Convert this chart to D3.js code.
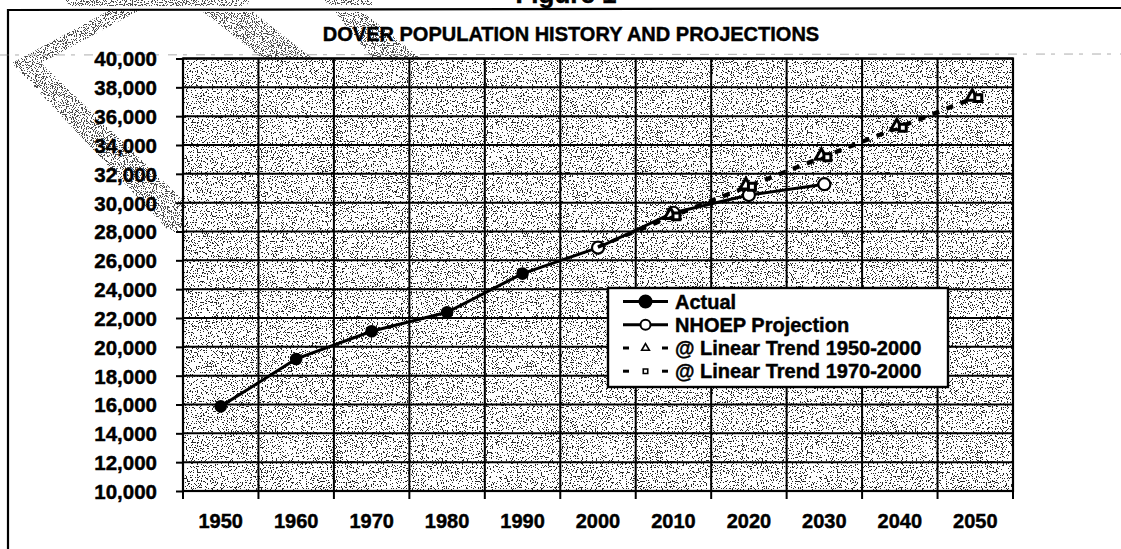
<!DOCTYPE html>
<html>
<head>
<meta charset="utf-8">
<script src="https://cdn.jsdelivr.net/npm/d3@7/dist/d3.min.js"></script>
<style>
  html, body { margin: 0; padding: 0; background: #fff; }
  svg { display: block; }
  text { font-family: "Liberation Sans", Arial, Helvetica, sans-serif; font-weight: bold; fill: #000;
         stroke: #000; stroke-width: 0.45px; }
</style>
</head>
<body>
<svg id="chart" width="1121" height="549"></svg>
<script>
// Decennial categories on the horizontal axis
const years = [1950, 1960, 1970, 1980, 1990, 2000, 2010, 2020, 2030, 2040, 2050];
const yTickValues = [10000, 12000, 14000, 16000, 18000, 20000, 22000, 24000,
                     26000, 28000, 30000, 32000, 34000, 36000, 38000, 40000];

// Census counts
const actualYears = [1950, 1960, 1970, 1980, 1990, 2000];
const actualPop   = [15870, 19160, 21080, 22400, 25080, 26880];

// NH Office of Energy and Planning projection
const nhoepYears = [2000, 2010, 2020, 2030];
const nhoepPop   = [26880, 29300, 30530, 31280];

// Straight-line extrapolations
const trendYears   = [2000, 2010, 2020, 2030, 2040, 2050];
const trend1950Pop = [26950, 29150, 31200, 33250, 35300, 37350];
const trend1970Pop = [26900, 29050, 31100, 33150, 35200, 37250];

const titleText = "DOVER POPULATION HISTORY AND PROJECTIONS";
const legendLabels = ["Actual", "NHOEP Projection", "@ Linear Trend 1950-2000", "@ Linear Trend 1970-2000"];

const svg = d3.select("#chart");
const W = 1121, H = 549;
const plot = { left: 183, right: 1013, top: 58.5, bottom: 491 };

const x = d3.scaleBand().domain(years).range([plot.left, plot.right]).padding(0);
const y = d3.scaleLinear().domain([10000, 40000]).range([plot.bottom, plot.top]);
const cx = yr => x(yr) + x.bandwidth() / 2;

// ---- filters: halftone speckle for the plot fill and the faint stipple shapes
const defs = svg.append("defs");
function speckle(id, freq, seed, threshold, alpha) {
  const f = defs.append("filter").attr("id", id)
    .attr("x", 0).attr("y", 0).attr("width", 1).attr("height", 1)
    .attr("filterUnits", "objectBoundingBox");
  f.append("feTurbulence").attr("type", "fractalNoise")
    .attr("baseFrequency", freq).attr("numOctaves", 1).attr("seed", seed);
  f.append("feColorMatrix").attr("type", "matrix")
    .attr("values", "0 0 0 0 0  0 0 0 0 0  0 0 0 0 0  1 0 0 0 0");
  const steps = 40;
  const table = d3.range(steps).map(i => (i / steps >= threshold ? alpha : 0)).join(" ");
  f.append("feComponentTransfer").append("feFuncA").attr("type", "discrete").attr("tableValues", table);
}
speckle("grain", 0.8, 7, 0.6, 0.85);
speckle("grainLight", 0.9, 3, 0.55, 0.7);

// ---- faint stippled shapes behind the heading
const stippleShapes = [
  [[110, 10], [140, 10], [41, 63], [183, 200], [183, 232], [170, 232], [12, 63]],
  [[203, 12], [253, 12], [312, 58], [262, 58]],
  [[335, 12], [363, 12], [420, 58], [372, 58]],
  [[65, 0], [250, 0], [246, 6], [70, 6]],
  [[323, 0], [372, 0], [372, 5], [330, 5]]
];
stippleShapes.forEach((pts, i) => {
  defs.append("clipPath").attr("id", "clipS" + i)
    .append("polygon").attr("points", pts.map(p => p.join(",")).join(" "));
  svg.append("rect").attr("x", 0).attr("y", 0).attr("width", 430).attr("height", 240)
    .attr("clip-path", `url(#clipS${i})`).attr("filter", "url(#grainLight)");
});

// ---- page frame and faint scan line
svg.append("line").attr("x1", 8).attr("y1", 10).attr("x2", W).attr("y2", 8)
  .attr("stroke", "#000").attr("stroke-width", 2.2);
svg.append("line").attr("x1", 8).attr("y1", 9).attr("x2", 8).attr("y2", H)
  .attr("stroke", "#000").attr("stroke-width", 2.2);
svg.append("line").attr("x1", 0).attr("y1", 55).attr("x2", W).attr("y2", 54)
  .attr("stroke", "#777").attr("stroke-width", 1).attr("stroke-dasharray", "9,6,4,9")
  .attr("opacity", 0.6);

// Figure caption, cut by the top edge
svg.append("text").attr("x", 566).attr("y", 3).attr("text-anchor", "middle")
  .style("font-size", "26px").text("Figure 1");

// Title
svg.append("text").attr("x", 571).attr("y", 41).attr("text-anchor", "middle")
  .style("font-size", "20px").text(titleText);

// ---- plot area
svg.append("rect").attr("x", plot.left).attr("y", plot.top)
  .attr("width", plot.right - plot.left).attr("height", plot.bottom - plot.top)
  .attr("fill", "#fff");
svg.append("rect").attr("x", plot.left).attr("y", plot.top)
  .attr("width", plot.right - plot.left).attr("height", plot.bottom - plot.top)
  .attr("filter", "url(#grain)");

const grid = svg.append("g").attr("stroke", "#000").attr("stroke-width", 2);
grid.selectAll("line.h").data(yTickValues).join("line").attr("class", "h")
  .attr("x1", plot.left).attr("x2", plot.right)
  .attr("y1", d => y(d)).attr("y2", d => y(d));
grid.selectAll("line.v").data(years.slice(1)).join("line").attr("class", "v")
  .attr("x1", d => x(d)).attr("x2", d => x(d))
  .attr("y1", plot.top).attr("y2", plot.bottom);
svg.append("rect").attr("x", plot.left).attr("y", plot.top)
  .attr("width", plot.right - plot.left).attr("height", plot.bottom - plot.top)
  .attr("fill", "none").attr("stroke", "#000").attr("stroke-width", 2.2);

// ---- axes
const yAxis = svg.append("g").attr("transform", `translate(${plot.left},0)`)
  .call(d3.axisLeft(y).tickValues(yTickValues).tickFormat(d3.format(","))
    .tickSize(7).tickPadding(19));
yAxis.select(".domain").remove();
yAxis.selectAll("line").attr("stroke", "#000").attr("stroke-width", 2);
yAxis.selectAll("text").style("font-size", "20.5px").attr("fill", "#000")
  .attr("font-family", null).attr("dy", "0.36em");

const xAxis = svg.append("g").attr("transform", `translate(0,${plot.bottom})`)
  .call(d3.axisBottom(x).tickSize(0).tickPadding(0));
xAxis.select(".domain").remove();
xAxis.selectAll("text").style("font-size", "20px").attr("fill", "#000")
  .attr("font-family", null).attr("dy", null).attr("y", 37);
// category boundary ticks
svg.append("g").attr("stroke", "#000").attr("stroke-width", 2)
  .selectAll("line").data(years.concat([null])).join("line")
  .attr("x1", (d, i) => plot.left + i * x.step()).attr("x2", (d, i) => plot.left + i * x.step())
  .attr("y1", plot.bottom).attr("y2", plot.bottom + 8);

// ---- series
const line = d3.line().x(d => cx(d[0])).y(d => y(d[1]));
const zip = (a, b) => a.map((v, i) => [v, b[i]]);

const actual = zip(actualYears, actualPop);
const nhoep = zip(nhoepYears, nhoepPop);
const t1950 = zip(trendYears, trend1950Pop);
const t1970 = zip(trendYears, trend1970Pop);

const triangle = d3.symbol().type(d3.symbolTriangle).size(64);
const square = d3.symbol().type(d3.symbolSquare).size(48);

// Actual
svg.append("path").datum(actual).attr("d", line)
  .attr("fill", "none").attr("stroke", "#000").attr("stroke-width", 3);
svg.append("g").selectAll("circle").data(actual).join("circle")
  .attr("cx", d => cx(d[0])).attr("cy", d => y(d[1])).attr("r", 6.3).attr("fill", "#000");

// NHOEP projection
svg.append("path").datum(nhoep).attr("d", line)
  .attr("fill", "none").attr("stroke", "#000").attr("stroke-width", 3);
svg.append("g").selectAll("circle").data(nhoep).join("circle")
  .attr("cx", d => cx(d[0])).attr("cy", d => y(d[1])).attr("r", 6)
  .attr("fill", "#fff").attr("stroke", "#000").attr("stroke-width", 2.2);

// Linear trends: dashed, markers on projected decades
function trendSeries(data, sym, dx) {
  svg.append("path").datum(data).attr("d", line)
    .attr("fill", "none").attr("stroke", "#000").attr("stroke-width", 3)
    .attr("stroke-dasharray", "7,8");
  svg.append("g").selectAll("path").data(data.filter(d => d[0] > 2000)).join("path")
    .attr("transform", d => `translate(${cx(d[0]) + dx},${y(d[1])})`)
    .attr("d", sym).attr("fill", "#fff").attr("stroke", "#000").attr("stroke-width", 3);
}
trendSeries(t1950, triangle, -3);
trendSeries(t1970, square, 3);

// ---- legend
const lg = svg.append("g");
lg.append("rect").attr("x", 608).attr("y", 288).attr("width", 340).attr("height", 99)
  .attr("fill", "#fff").attr("stroke", "#000").attr("stroke-width", 2.4);
const rowY = [308.5, 331.8, 355, 378.2];
const symX0 = 623, symX1 = 668, symXc = 645.5;
legendLabels.forEach((label, i) => {
  const by = rowY[i], sy = by - 7;
  if (i < 2) {
    lg.append("line").attr("x1", symX0).attr("x2", symX1).attr("y1", sy).attr("y2", sy)
      .attr("stroke", "#000").attr("stroke-width", 3);
    lg.append("circle").attr("cx", symXc).attr("cy", sy).attr("r", i === 0 ? 6 : 5)
      .attr("fill", i === 0 ? "#000" : "#fff").attr("stroke", "#000").attr("stroke-width", 2);
  } else {
    [[symX0, symX0 + 6], [symX1 - 6, symX1]].forEach(([a, b]) =>
      lg.append("line").attr("x1", a).attr("x2", b).attr("y1", sy).attr("y2", sy)
        .attr("stroke", "#000").attr("stroke-width", 3));
    lg.append("path").attr("transform", `translate(${symXc},${sy})`)
      .attr("d", (i === 2 ? d3.symbol().type(d3.symbolTriangle).size(26)
                          : d3.symbol().type(d3.symbolSquare).size(20))())
      .attr("fill", "#fff").attr("stroke", "#000").attr("stroke-width", 1.6);
  }
  lg.append("text").attr("x", 675).attr("y", by).style("font-size", "20px").text(label);
});
</script>
</body>
</html>
